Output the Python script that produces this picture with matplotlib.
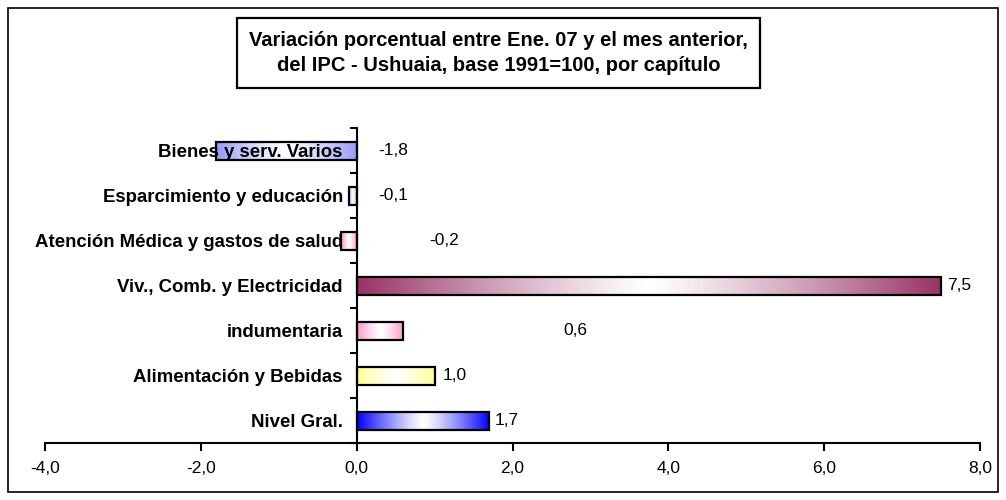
import numpy as np
import matplotlib.pyplot as plt
from matplotlib.colors import to_rgb
from matplotlib.patches import Rectangle

plt.rcParams['font.family'] = ['Liberation Sans', 'DejaVu Sans']

categories = ['Nivel Gral.', 'Alimentación y Bebidas', 'indumentaria',
              'Viv., Comb. y Electricidad', 'Atención Médica y gastos de salud',
              'Esparcimiento y educación', 'Bienes y serv. Varios']
values = [1.7, 1.0, 0.6, 7.5, -0.2, -0.1, -1.8]
colors = ['#0000ff', '#ffff99', '#ff99cc', '#993366', '#ff9999', '#cc99ff', '#9999ff']
# where the value labels sit (data x), as in the original
label_x = [1.77, 1.1, 2.65, 7.57, 0.93, 0.28, 0.28]
xticks = [-4, -2, 0, 2, 4, 6, 8]

fig = plt.figure(figsize=(10.06, 5.0), dpi=100)
ax = fig.add_axes([0.0447, 0.114, 0.9297, 0.63])
ax.set_axisbelow(False)

h = 0.4
t = np.linspace(0, 1, 256)
mix = np.abs(2 * t - 1) ** 1.2
for i, (v, c) in enumerate(zip(values, colors)):
    rgb = np.array(to_rgb(c))
    grad = (1 - mix[:, None]) * np.ones(3) + mix[:, None] * rgb
    x0, x1 = min(0, v), max(0, v)
    ax.imshow(grad[None, :, :], extent=[x0, x1, i - h / 2, i + h / 2],
              aspect='auto', zorder=2, interpolation='bilinear')
    ax.add_patch(Rectangle((x0, i - h / 2), x1 - x0, h, fill=False,
                           edgecolor='black', lw=1.6, zorder=3))
    ax.text(label_x[i], i, f'{v:.1f}'.replace('.', ','), va='center',
            ha='left', fontsize=12.5, zorder=4)

ax.set_xlim(-4, 8)
ax.set_ylim(-0.5, len(categories) - 0.5)

for s in ['top', 'right']:
    ax.spines[s].set_visible(False)
ax.spines['left'].set_position(('data', 0))
ax.spines['left'].set_linewidth(1.5)
ax.spines['bottom'].set_linewidth(1.5)

ax.set_xticks(xticks)
ax.set_xticklabels([f'{x:.1f}'.replace('.', ',') for x in xticks], fontsize=12.5)
ax.tick_params(axis='x', direction='out', length=6, width=1.5, pad=7)

ax.set_yticks(np.arange(len(categories) + 1) - 0.5)
ax.set_yticklabels([])
ax.tick_params(axis='y', which='major', direction='out', length=5, width=1.5)
ax.set_yticks(np.arange(len(categories)), minor=True)
ax.set_yticklabels(categories, minor=True, fontsize=13.4, fontweight='bold')
ax.tick_params(axis='y', which='minor', length=0, pad=10)

# title box
fig.patches.append(Rectangle((0.2356, 0.824), 0.52, 0.14, transform=fig.transFigure,
                             facecolor='white', edgecolor='black', lw=1.6))
fig.text(0.4955, 0.894, 'Variación porcentual entre Ene. 07 y el mes anterior,\n'
         'del IPC - Ushuaia, base 1991=100, por capítulo',
         ha='center', va='center', fontsize=14.5, fontweight='bold',
         linespacing=1.45)

fig.patches.append(Rectangle((0.008, 0.016), 0.984, 0.968, transform=fig.transFigure,
                             fill=False, edgecolor='black', lw=1.2))

fig.savefig('out.png', dpi=100)
